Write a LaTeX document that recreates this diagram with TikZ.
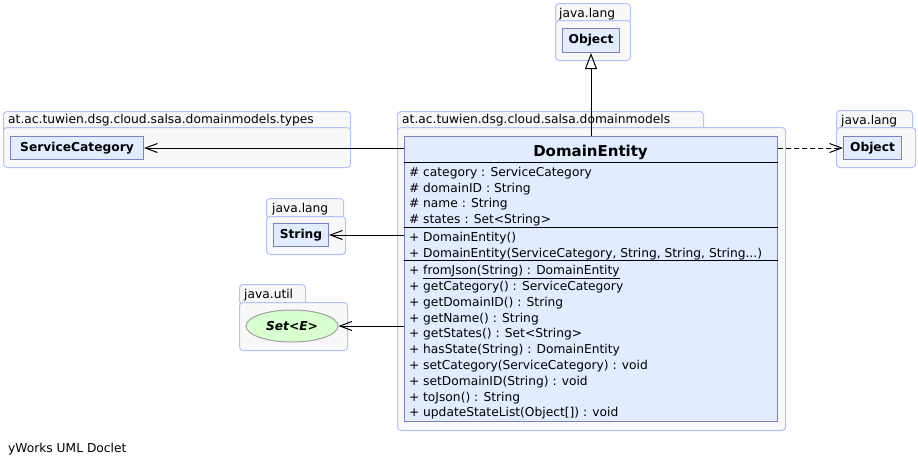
\documentclass[tikz,border=0pt]{standalone}
\usepackage{fontspec}
\setmainfont{DejaVu Sans}
\usetikzlibrary{arrows.meta,shapes.geometric}
\definecolor{pkgfill}{HTML}{F8F8F8}
\definecolor{pkgline}{HTML}{B4C0FF}
\definecolor{boxfill}{HTML}{E2ECFF}
\definecolor{boxline}{HTML}{7F80C0}
\definecolor{ellfill}{HTML}{D8FFD0}
\definecolor{ellline}{HTML}{A0A0A0}
\tikzset{
  pkg/.style={draw=pkgline, fill=pkgfill, rounded corners=3.5pt, line width=1pt, inner sep=0pt, anchor=north west},
  pkglabel/.style={anchor=base west, inner sep=0pt, font=\fontsize{12.25}{14}\selectfont},
  cls/.style={draw=boxline, fill=boxfill, line width=1pt, inner sep=0pt, anchor=north west, font=\fontsize{12.25}{14}\selectfont\bfseries},
  member/.style={anchor=base west, inner sep=0pt, font=\fontsize{12.25}{14}\selectfont},
  sep/.style={draw=black, line width=1pt},
  assoc/.style={draw=black, line width=1pt, -{Straight Barb[length=12pt,width=9pt,line width=1pt]}},
  dep/.style={draw=black, line width=1pt, dash pattern=on 5pt off 3pt, -{Straight Barb[length=12pt,width=9pt,line width=1pt]}},
  gen/.style={draw=black, line width=1pt, -{Triangle[open,length=16pt,width=12pt,line width=1pt]}},
}
\newcommand{\mrow}[2]{\makebox[14pt][l]{#1}#2}
\begin{document}
\begin{tikzpicture}[x=1pt,y=-1pt]
\useasboundingbox (0,0) rectangle (918,467);
% ---- top java.lang package
\node[pkg, minimum width=75pt, minimum height=20pt] (p1tab) at (555,3) {};
\node[pkg, minimum width=75pt, minimum height=40pt] (p1) at (555,20) {};
\node[pkglabel] (p1lbl) at (559,17) {java.lang};
\node[cls, minimum width=57pt, minimum height=24pt] (obj1) at (562,28) {Object};
% ---- right java.lang package
\node[pkg, minimum width=76pt, minimum height=20pt] (p2tab) at (836,110) {};
\node[pkg, minimum width=79pt, minimum height=40pt] (p2) at (836,127) {};
\node[pkglabel] (p2lbl) at (841,124) {java.lang};
\node[cls, minimum width=58pt, minimum height=23pt] (obj2) at (843,136) {Object};
% ---- types package
\node[pkg, minimum width=347pt, minimum height=20pt] (p3tab) at (3,111) {};
\node[pkg, minimum width=347pt, minimum height=40pt] (p3) at (3,127) {};
\node[pkglabel] (p3lbl) at (8,123) {at.ac.tuwien.dsg.cloud.salsa.domainmodels.types};
\node[cls, minimum width=133pt, minimum height=23pt] (sc) at (10,136) {ServiceCategory};
% ---- java.lang String package
\node[pkg, minimum width=77pt, minimum height=20pt] (p4tab) at (266,198) {};
\node[pkg, minimum width=79pt, minimum height=38pt] (p4) at (266,216) {};
\node[pkglabel] (p4lbl) at (272,212) {java.lang};
\node[cls, minimum width=55pt, minimum height=23pt] (str) at (273,223) {String};
% ---- java.util package
\node[pkg, minimum width=66pt, minimum height=20pt] (p5tab) at (239,284) {};
\node[pkg, minimum width=108pt, minimum height=48pt] (p5) at (239,302) {};
\node[pkglabel] (p5lbl) at (244,298) {java.util};
\node[ellipse, draw=ellline, fill=ellfill, line width=1pt, inner sep=0pt, minimum width=92pt, minimum height=32pt,
      font=\fontsize{12.25}{14}\selectfont\bfseries\itshape] (set) at (292,326) {Set<E>};
% ---- main package
\node[pkg, minimum width=306pt, minimum height=20pt] (p6tab) at (397,111) {};
\node[pkg, minimum width=388pt, minimum height=303pt] (p6) at (397,127) {};
\node[pkglabel] (p6lbl) at (402,123) {at.ac.tuwien.dsg.cloud.salsa.domainmodels};
\node[cls, minimum width=373pt, minimum height=285pt] (de) at (404,136) {};
\node[inner sep=0pt, anchor=base, font=\fontsize{15}{17}\selectfont\bfseries] (detitle) at (590.5,156) {DomainEntity};
\draw[sep] (de.west |- 0,162) -- (de.east |- 0,162);
\draw[sep] (de.west |- 0,227) -- (de.east |- 0,227);
\draw[sep] (de.west |- 0,260) -- (de.east |- 0,260);
\node[member] (a1) at (409,176) {\mrow{\#}{category : ServiceCategory}};
\node[member] (a2) at (409,192) {\mrow{\#}{domainID : String}};
\node[member] (a3) at (409,207) {\mrow{\#}{name : String}};
\node[member] (a4) at (409,223) {\mrow{\#}{states : Set<String>}};
\node[member] (c1) at (409,241) {\mrow{+}{DomainEntity()}};
\node[member] (c2) at (409,257) {\mrow{+}{DomainEntity(ServiceCategory, String, String, String...)}};
\node[member] (m1) at (409,274) {\mrow{+}{\underline{fromJson(String) : DomainEntity}}};
\node[member] (m2) at (409,290) {\mrow{+}{getCategory() : ServiceCategory}};
\node[member] (m3) at (409,306) {\mrow{+}{getDomainID() : String}};
\node[member] (m4) at (409,322) {\mrow{+}{getName() : String}};
\node[member] (m5) at (409,337) {\mrow{+}{getStates() : Set<String>}};
\node[member] (m6) at (409,353) {\mrow{+}{hasState(String) : DomainEntity}};
\node[member] (m7) at (409,369) {\mrow{+}{setCategory(ServiceCategory) : void}};
\node[member] (m8) at (409,385) {\mrow{+}{setDomainID(String) : void}};
\node[member] (m9) at (409,401) {\mrow{+}{toJson() : String}};
\node[member] (m10) at (409,416) {\mrow{+}{updateStateList(Object[]) : void}};
% ---- connectors
\draw[gen] (de.north) -- (obj1.south);
\draw[dep] (obj2.west -| de.east) -- (obj2.west);
\draw[assoc] (sc.east -| de.west) -- (sc.east);
\draw[assoc] (str.east -| de.west) -- (str.east);
\draw[assoc] (set.east -| de.west) -- (set.east);
% ---- footer
\node[member] (footer) at (8,452) {yWorks UML Doclet};
\end{tikzpicture}
\end{document}
